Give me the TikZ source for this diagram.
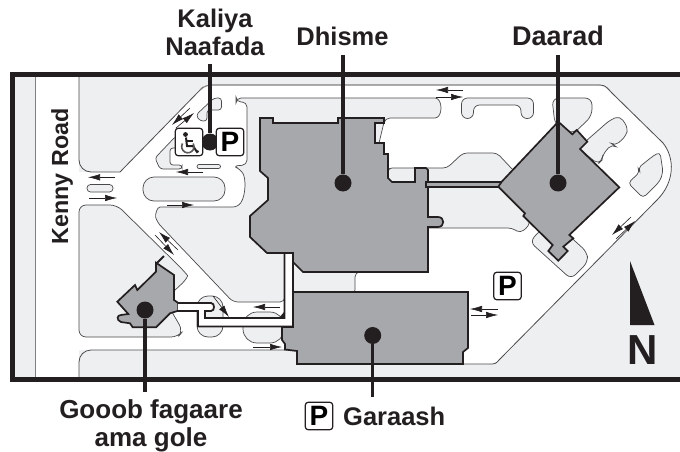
\documentclass[tikz,border=0pt]{standalone}
\usepackage{fontspec}
\setmainfont{Liberation Sans}
\usetikzlibrary{arrows.meta}
\definecolor{ground}{HTML}{EEEFF1}
\definecolor{bldg}{HTML}{A7A8AB}
\definecolor{ink}{HTML}{231F20}
\definecolor{edge}{HTML}{4A4A4C}
\tikzset{
  x=1pt,y=-1pt,
  island/.style={fill=ground,draw=edge,line width=0.7pt,rounded corners=#1},
  island/.default=4pt,
  roadline/.style={draw=edge,line width=0.8pt},
  building/.style={fill=bldg,draw=ink,line width=1.7pt,line join=miter},
  walkway/.style={fill=white,draw=ink,line width=1.8pt,line join=miter},
  traffic/.style={draw=ink,line width=0.6pt,-{Latex[length=12pt,width=6.5pt]}},
  leader/.style={draw=ink,line width=3.4pt},
  dotmark/.style={circle,fill=ink,inner sep=0pt,minimum size=17pt},
  iconbox/.style={draw=ink,fill=white,line width=1.2pt,rounded corners=3pt,inner sep=0pt,minimum size=27.5pt,font=\fontsize{28}{28}\selectfont\bfseries},
  lbl/.style={text=ink,font=\fontsize{25.5}{28}\selectfont\bfseries,align=center,inner sep=0pt}
}
\begin{document}
\begin{tikzpicture}
\useasboundingbox (0,0) rectangle (680,452);
% ground
\fill[ground] (15,77) rectangle (680,377);
\fill[white] (35,77) rectangle (79,377);
\draw[draw=gray,line width=1pt] (35,77) -- (35,377);
% main road surface
\fill[white,rounded corners=6pt] (70,172) -- (120,172) -- (203,87) -- (208,85) -- (602,85) -- (663,143)
  .. controls (675,160) and (675,180) .. (657,200) -- (500,360) -- (493,364) -- (297,364) -- (297,350) -- (70,350) -- cycle;
% road edges
\draw[roadline,rounded corners=12pt] (79,77) -- (79,172) -- (120,172);
\draw[roadline] (120,172) -- (203,87);
\draw[draw=gray,line width=1.1pt,rounded corners=5pt] (200,90) -- (206,85) -- (600,85);
\draw[roadline] (600,85) .. controls (606,85) and (608,89) .. (612,93) -- (663,143)
  .. controls (675,158) and (675,182) .. (657,200) -- (499,360) .. controls (496,364) and (494,364) .. (490,364) -- (462,364);
\draw[roadline,rounded corners=12pt] (79,377) -- (79,350) -- (290,350);
% islands
\draw[island=7pt] (79,205) -- (117,205) -- (183,270) .. controls (188,276) and (186,280) .. (175,290) -- (165,300) -- (183,331) -- (178,337) -- (79,337) -- cycle;
\draw[island=5pt] (233,302) -- (157,222) .. controls (155,215) and (157,207) .. (165,207) -- (238,207)
  .. controls (246,195) and (246,178) .. (240,169) -- (233,166) -- (247,165) -- (247,102) -- (236,102) -- (236,98) -- (430,98)
  .. controls (443,98) and (443,118) .. (430,118) -- (385,118) -- (375,160) -- (400,175) -- (420,200) -- (420,268) -- (355,272) -- (355,295) -- (285,295) -- (285,302) -- cycle;
\draw[island=4pt] (388,168) -- (447,168) -- (463,153) -- (497,153) -- (513,170) -- (540,190) -- (530,215) -- (529,226) -- (520,233) -- (512,228) -- (425,228) -- (420,200) -- (388,190) -- cycle;
\draw[island=3pt] (196,115) -- (214,98) -- (221.5,98) -- (221.5,110) -- (207,110) -- (207,121) -- (200,121) -- cycle;
\draw[island=3pt] (176,136) -- (155,158) -- (160,169) -- (182,169) -- (182,165) -- (170,165) -- (170,148) -- (178,148) -- cycle;
\draw[island=2pt] (197,164.5) rectangle (220.5,168.5);
\draw[island=11pt] (143,177) rectangle (225,201);
\draw[island=3.5pt] (87,184.5) rectangle (113,192);
\draw[island=6pt] (461.5,118.5) -- (461.5,98) -- (533.5,98) -- (533.5,118.5) -- (521,118.5) -- (521,105) -- (473.5,105) -- (473.5,118.5) -- cycle;
\draw[island=7pt] (555,125) -- (552,98) -- (592,98) -- (592,116) -- (573,134) -- cycle;
\draw[island=5pt] (578,148) -- (610,120) -- (620,116) -- (628,128) -- (626,136) -- (615,146) -- (612,144) -- (603,154) -- (602,160) -- (598,164) -- cycle;
\draw[island=4pt] (628,183) -- (640,172) -- (638,168) -- (653,156) -- (660,152) -- (663,172) -- (660,181) -- (643,198) -- cycle;
\draw[island=6pt] (540,230) -- (530,242) -- (571,279) -- (588,262) -- (587,252) -- (565,232) -- cycle;
\draw[island=11pt] (197,296) rectangle (223,337);
\draw[island=14pt] (243,312) rectangle (284,343);
% buildings
\path[building] (260,118) -- (273,118) -- (273,123) -- (338,123) -- (338,118) -- (384,118) -- (384,123) -- (375,123) -- (375,143) -- (384,143) -- (384,154) -- (388,154) -- (388,178) -- (392,182) -- (415,182) -- (415,168) -- (426,168) -- (428,170) -- (428,217) -- (438,217) .. controls (445,217) and (445,227) .. (438,227) -- (428,227) -- (428,272) -- (303,272) -- (293,262) -- (293,253) -- (267,253) -- (250,237) -- (250,216) -- (268,200) -- (268,178) -- (260,171) -- cycle;
\path[building] (426,182) rectangle (505,187);
\path[building] (558.3,121.7) -- (572.3,134.3) -- (576.7,130) -- (587.3,141.7) -- (580,149) -- (619.3,187.3) -- (569.3,235) -- (573.3,238.3) -- (563.3,246.7) -- (567.7,251) -- (558.3,260.7) -- (548.3,251) -- (552.7,245) -- (523.3,216) -- (525,213.3) -- (498.3,186.7) -- (501.7,181.7) -- cycle;
\path[building] (293,292) -- (468,292) -- (468,348) -- (463,352) -- (463,364) -- (297,364) -- (297,351) -- (285,349.5) -- (285,344) -- (282,340) -- (282,327) -- (293,327) -- cycle;
\path[building] (156,262.7) -- (174,275) -- (174,300) -- (178.3,303) -- (178.3,310.7) -- (170,313.3) -- (156,327.3) -- (132.7,327.3) -- (130,323.3) -- (121,322) .. controls (116,320) and (117,315) .. (121,315) -- (128.3,314) -- (117.3,301.7) -- (135,285) -- (137.3,290) -- (156,271.7) -- cycle;
\draw[draw=ink,line width=2pt] (157,263) -- (164,256);
% walkway
\path[walkway] (178,303) -- (211,303) .. controls (215,303) and (215,311) .. (211,311) -- (205,311) -- (205,318) -- (284.5,318) -- (284.5,253) -- (293,253) -- (293,326.5) -- (198,326.5) -- (198,311) -- (178,311);
\fill[ink] (284,312) -- (284,318) -- (279,318) -- cycle;
% traffic arrows
\draw[traffic] (115,177.3) -- (88,177.3);
\draw[traffic] (89,198) -- (117,198);
\draw[traffic] (167,205) -- (194,205);
\draw[traffic] (203,172) -- (176,172);
\draw[traffic] (190,108) -- (172,125);
\draw[traffic] (176,128) -- (194,113);
\draw[traffic] (155,235) -- (174,255);
\draw[traffic] (178,250) -- (159,232);
\draw[traffic] (213,296) -- (229,317);
\draw[traffic] (280,307) -- (253,307);
\draw[traffic] (253,347) -- (282,347);
\draw[traffic] (463,90) -- (436,90);
\draw[traffic] (436,97) -- (463,97);
\draw[traffic] (631,217) -- (612,235);
\draw[traffic] (616,239) -- (635,221);
\draw[traffic] (498,309) -- (470,309);
\draw[traffic] (471,315) -- (498,315);
% frame
\draw[draw=ink,line width=5pt,line join=miter] (680,75) -- (12.5,75) -- (12.5,379.5) -- (680,379.5);
% north
\fill[ink] (630,261) -- (630,325) -- (654.5,325) -- cycle;
\node[text=ink,font=\fontsize{42}{42}\selectfont\bfseries,inner sep=0pt] (north) at (643,350.5) {N};
% labels
\node[lbl] (kaliya) at (215,32.5) {Kaliya\\Naafada};
\node[lbl] (dhisme) at (342.5,36) {Dhisme};
\node[lbl,font=\fontsize{27}{28}\selectfont\bfseries] (daarad) at (558,36) {Daarad};
\node[lbl,font=\fontsize{26}{28}\selectfont\bfseries] (gooob) at (151,426) {Gooob fagaare\\ama gole};
\node[lbl,font=\fontsize{23.3}{28}\selectfont\bfseries,rotate=90] (kenny) at (62,176.5) {Kenny Road};
\node[lbl,anchor=west] (garaash) at (343,416) {Garaash};
% dots and leaders
\node[dotmark] (dotK) at (210,142) {};
\node[dotmark] (dotD) at (343,183) {};
\node[dotmark] (dotA) at (558,183) {};
\node[dotmark] (dotG) at (145,310) {};
\node[dotmark] (dotP) at (372.7,335.5) {};
\coordinate (endK) at (210,64);
\coordinate (endD) at (343,55);
\coordinate (endA) at (558,55);
\coordinate (endG) at (145,392);
\coordinate (endP) at (372.7,397);
\draw[leader] (endK) -- (dotK);
\draw[leader] (endD) -- (dotD);
\draw[leader] (endA) -- (dotA);
\draw[leader] (endG) -- (dotG);
\draw[leader] (endP) -- (dotP);
% icons
\node[iconbox] (wheel) at (189,142) {};
\node[iconbox] (parkA) at (230,142) {P};
\node[iconbox] (parkB) at (507.5,286) {P};
\node[iconbox] (parkC) at (319,416) {P};
\fill[ink] (185.5,134.5) circle (2.4pt);
\draw[ink,line width=2pt] (186,137.5) -- (187,146) -- (193,146) -- (197,152) -- (198.5,151);
\draw[ink,line width=1.6pt] (187,141) -- (193,141);
\draw[ink!75,line width=1.6pt] (182.5,143.5) arc[start angle=150,end angle=390,radius=6.2pt];
\end{tikzpicture}
\end{document}
